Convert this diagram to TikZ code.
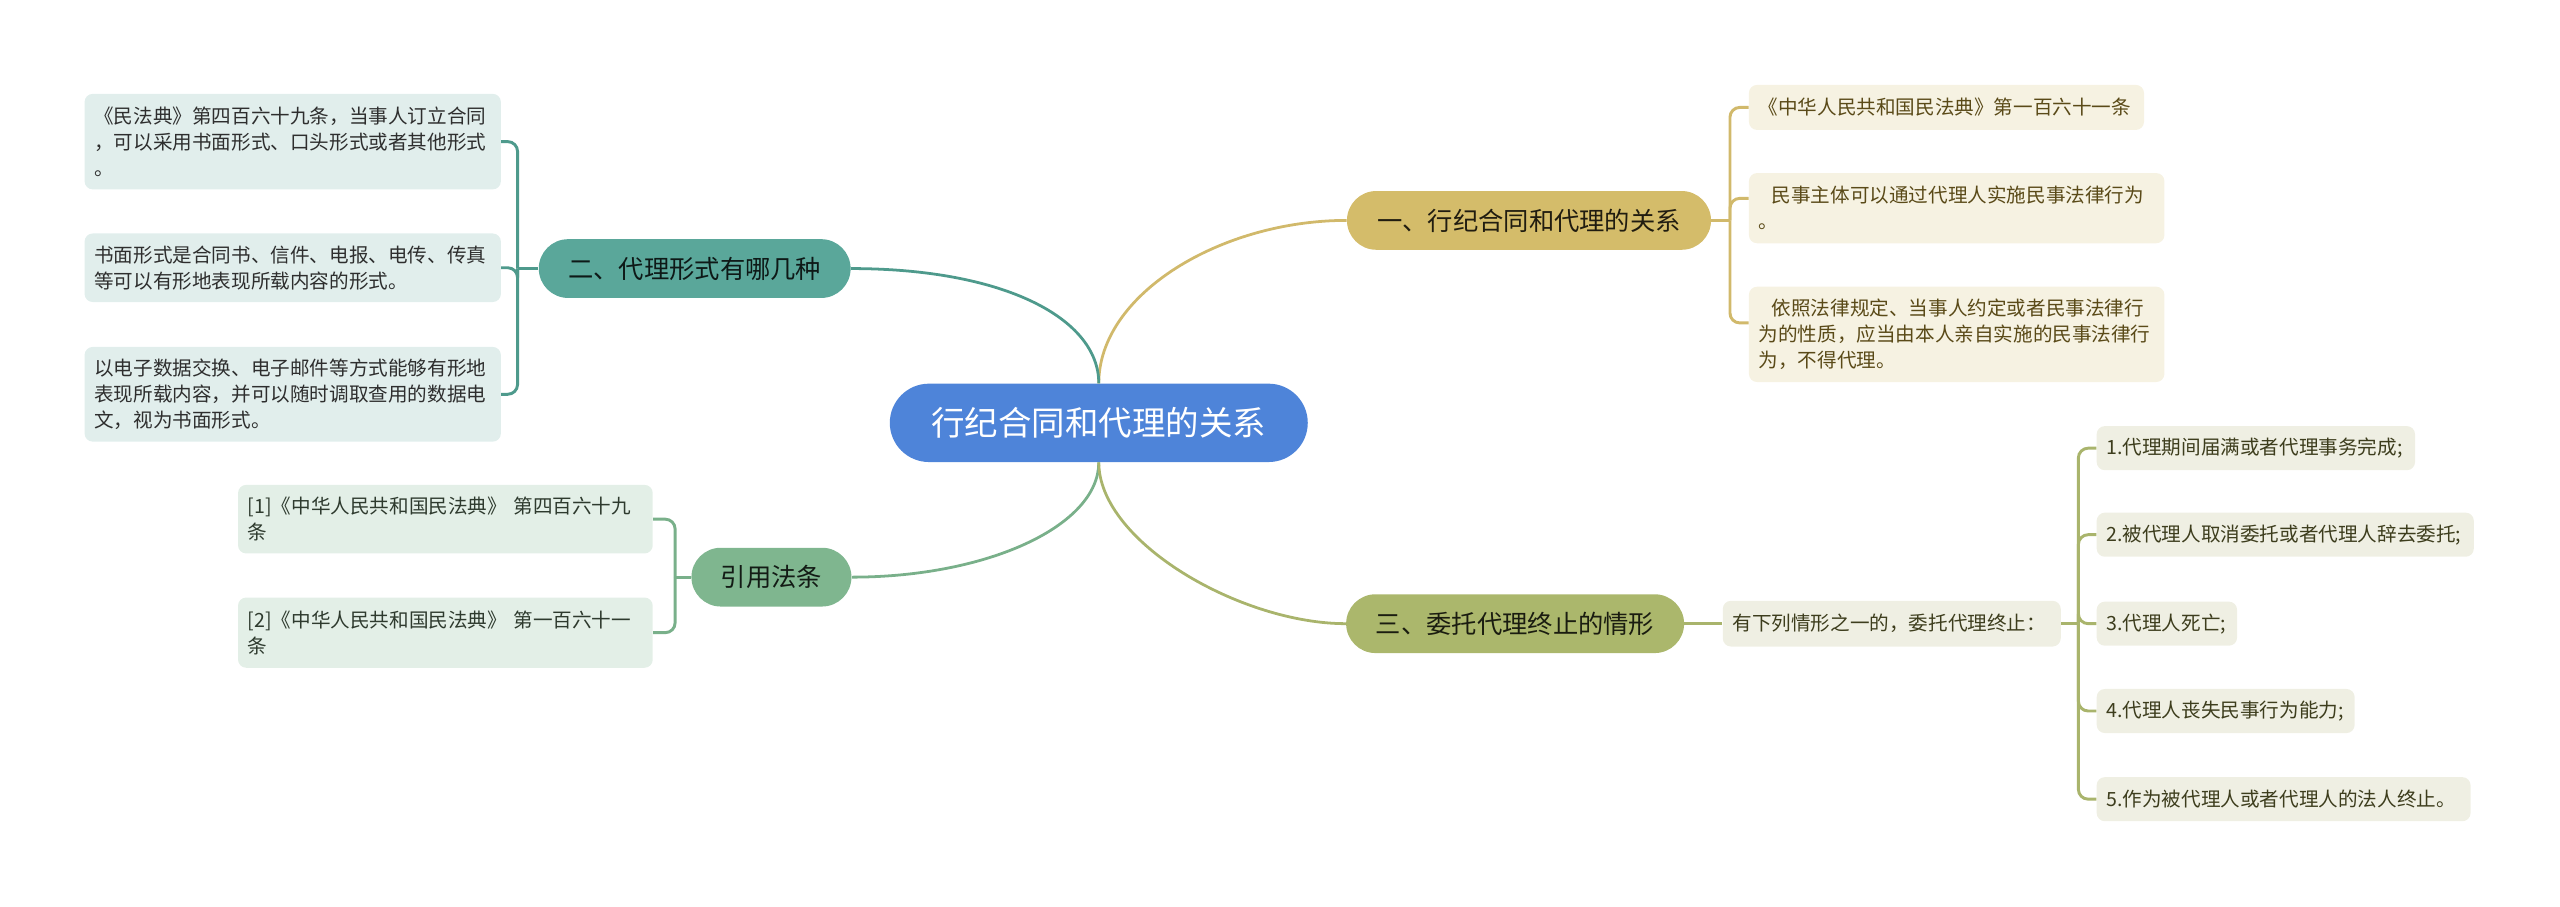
\documentclass[tikz,border=0pt]{standalone}
\usepackage{fontspec}
\setmainfont{Noto Sans CJK SC}
\usetikzlibrary{calc}

\definecolor{rootblue}{HTML}{4E84D9}
\definecolor{goldline}{HTML}{D1B96B}
\definecolor{goldfill}{HTML}{D4BC6A}
\definecolor{goldleaf}{HTML}{F6F2E2}
\definecolor{goldtext}{HTML}{5A4A18}
\definecolor{tealline}{HTML}{4E9A8C}
\definecolor{tealfill}{HTML}{5AA79A}
\definecolor{tealleaf}{HTML}{E1EEEC}
\definecolor{tealtext}{HTML}{2E2E2E}
\definecolor{greenline}{HTML}{79B08A}
\definecolor{greenfill}{HTML}{7FB68F}
\definecolor{greenleaf}{HTML}{E3EFE7}
\definecolor{greentext}{HTML}{2E3A2E}
\definecolor{oliveline}{HTML}{A9B46C}
\definecolor{olivefill}{HTML}{ABB76C}
\definecolor{oliveleaf}{HTML}{EFEFE3}
\definecolor{olivetext}{HTML}{3D3D1D}

\tikzset{
  rootnode/.style={fill=rootblue, text=white, rounded corners=24pt, minimum width=256pt,
    minimum height=48pt, inner sep=0pt, font=\fontsize{20.5}{24}\selectfont},
  topicnode/.style={rounded corners=18pt, minimum height=36pt, inner sep=0pt,
    font=\fontsize{15.5}{18}\selectfont},
  leafnode/.style={rounded corners=5pt, inner xsep=6pt, inner ysep=0pt, align=left,
    font=\fontsize{12}{16}\selectfont},
  link/.style={line width=1.7pt},
  brace/.style={line width=1.8pt, rounded corners=6pt},
}

\begin{document}
\begin{tikzpicture}[x=1pt,y=1pt,yscale=-1]
\useasboundingbox (0,0) rectangle (1568,555.5);

% centre and main topics
\node (root) at (673,259) [rootnode] {行纪合同和代理的关系};
\node (t1) at (936.5,135) [topicnode, fill=goldfill, text=black!85!goldfill, minimum width=223pt] {一、行纪合同和代理的关系};
\node (t2) at (425.5,164.5) [topicnode, fill=tealfill, text=black!85!tealfill, minimum width=191pt] {二、代理形式有哪几种};
\node (t3) at (472.5,353.5) [topicnode, fill=greenfill, text=black!85!greenfill, minimum width=98pt] {引用法条};
\node (t4) at (928,382) [topicnode, fill=olivefill, text=black!85!olivefill, minimum width=207pt] {三、委托代理终止的情形};

%Curve Lines
\draw [link, goldline] (root.north) .. controls (673,180) and (748,135) .. (t1.west);
\draw [link, tealline] (root.north) .. controls (673,195) and (615,164.5) .. (t2.east);
\draw [link, greenline] (root.south) .. controls (673,322) and (605,353.5) .. (t3.east);
\draw [link, oliveline] (root.south) .. controls (673,332) and (760,382) .. (t4.west);

% leaves of t1
\node (la) at (1071,65.8) [leafnode, anchor=west, fill=goldleaf, text=goldtext, text width=230pt, minimum height=27.6pt] {《中华人民共和国民法典》第一百六十一条};
\node (lb) at (1071,127.5) [leafnode, anchor=west, fill=goldleaf, text=goldtext, text width=242.5pt, minimum height=43pt] {\hspace*{8pt}民事主体可以通过代理人实施民事法律行为\\。};
\node (lc) at (1071,204.8) [leafnode, anchor=west, fill=goldleaf, text=goldtext, text width=242.5pt, minimum height=58.4pt] {\hspace*{8pt}依照法律规定、当事人约定或者民事法律行\\为的性质，应当由本人亲自实施的民事法律行\\为，不得代理。};
\coordinate (j1) at (1059.6,135);
\draw [brace, goldline] (t1.east) -- (j1);
\draw [brace, goldline] (j1) |- (la.west);
\draw [brace, goldline] (j1) |- ($(lb.west)+(0,-6)$);
\draw [brace, goldline] (j1) |- ($(lc.west)+(0,-7)$);

% leaves of t2
\node (lA) at (307,86.75) [leafnode, anchor=east, fill=tealleaf, text=tealtext, text width=243pt, minimum height=58.5pt] {《民法典》第四百六十九条，当事人订立合同\\，可以采用书面形式、口头形式或者其他形式\\。};
\node (lB) at (307,164) [leafnode, anchor=east, fill=tealleaf, text=tealtext, text width=243pt, minimum height=42pt] {书面形式是合同书、信件、电报、电传、传真\\等可以有形地表现所载内容的形式。};
\node (lC) at (307,241.5) [leafnode, anchor=east, fill=tealleaf, text=tealtext, text width=243pt, minimum height=58pt] {以电子数据交换、电子邮件等方式能够有形地\\表现所载内容，并可以随时调取查用的数据电\\文，视为书面形式。};
\coordinate (j2) at (317,164.5);
\draw [brace, tealline] (t2.west) -- (j2);
\draw [brace, tealline] (j2) |- (lA.east);
\draw [brace, tealline] (j2) |- (lB.east);
\draw [brace, tealline] (j2) |- (lC.east);

% leaves of t3
\node (lr1) at (400,318) [leafnode, anchor=east, fill=greenleaf, text=greentext, text width=242pt, minimum height=42pt] {[1]《中华人民共和国民法典》 第四百六十九\\条};
\node (lr2) at (400,387.5) [leafnode, anchor=east, fill=greenleaf, text=greentext, text width=242pt, minimum height=43pt] {[2]《中华人民共和国民法典》 第一百六十一\\条};
\coordinate (j3) at (413.5,353.5);
\draw [brace, greenline] (t3.west) -- (j3);
\draw [brace, greenline] (j3) |- (lr1.east);
\draw [brace, greenline] (j3) |- (lr2.east);

% leaves of t4
\node (lk) at (1055,382) [leafnode, anchor=west, fill=oliveleaf, text=olivetext, text width=195pt, minimum height=28pt] {有下列情形之一的，委托代理终止：};
\draw [link, oliveline] (t4.east) -- (lk.west);
\node (i1) at (1284,274.5) [leafnode, anchor=west, fill=oliveleaf, text=olivetext, text width=183pt, minimum height=27pt] {1.代理期间届满或者代理事务完成;};
\node (i2) at (1284,327.5) [leafnode, anchor=west, fill=oliveleaf, text=olivetext, text width=219pt, minimum height=27pt] {2.被代理人取消委托或者代理人辞去委托;};
\node (i3) at (1284,382) [leafnode, anchor=west, fill=oliveleaf, text=olivetext, text width=74pt, minimum height=27pt] {3.代理人死亡;};
\node (i4) at (1284,435.5) [leafnode, anchor=west, fill=oliveleaf, text=olivetext, text width=146pt, minimum height=27pt] {4.代理人丧失民事行为能力;};
\node (i5) at (1284,489.5) [leafnode, anchor=west, fill=oliveleaf, text=olivetext, text width=217pt, minimum height=27pt] {5.作为被代理人或者代理人的法人终止。};
\coordinate (j4) at (1273,382);
\draw [brace, oliveline] (lk.east) -- (j4);
\foreach \item in {i1,i2,i3,i4,i5}
  \draw [brace, oliveline] (j4) |- (\item.west);
\end{tikzpicture}
\end{document}
